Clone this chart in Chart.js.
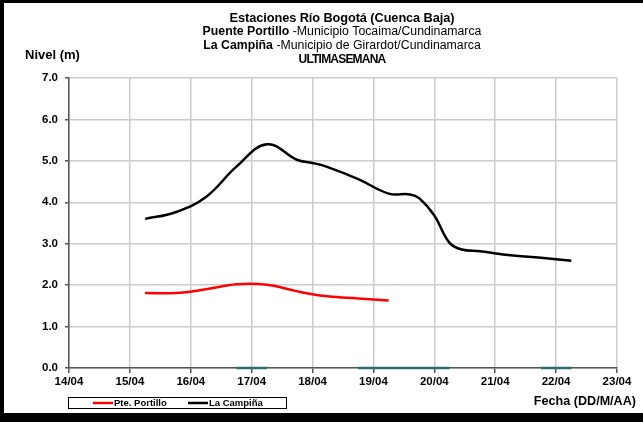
<!DOCTYPE html>
<html>
<head>
<meta charset="utf-8">
<script src="https://cdn.jsdelivr.net/npm/chart.js@4/dist/chart.umd.min.js"></script>
<style>
html,body{margin:0;padding:0;background:#fff;}
#wrap{width:643px;height:422px;position:relative;}
canvas{display:block;}
</style>
</head>
<body>
<div id="wrap"><canvas id="c" width="643" height="422"></canvas></div>
<script>
// Day offsets from 14/04 00:00
const xTickLabels = ["14/04","15/04","16/04","17/04","18/04","19/04","20/04","21/04","22/04","23/04"];
const timesCampina = [1.25,1.75,2.25,2.75,3.25,3.75,4.0,4.25,4.75,5.25,5.6,5.75,6.0,6.25,6.45,6.75,7.25,7.75,8.25];
const levelsCampina = [3.60,3.76,4.13,4.86,5.40,5.02,4.95,4.85,4.56,4.21,4.19,4.10,3.68,3.02,2.86,2.82,2.72,2.66,2.59];
const timesPortillo = [1.25,1.75,2.25,2.75,3.25,3.75,4.25,4.75,5.25];
const levelsPortillo = [1.81,1.81,1.90,2.02,2.01,1.85,1.73,1.68,1.63];
const timesZero = [2.75,3.25,3.5,4.75,5.25,5.75,6.25,7.0,7.75,8.25];
const levelsZero = [0,0,null,0,0,0,0,null,0,0];

const toPts = (xs, ys) => xs.map((x,i)=>({x:x,y:ys[i]}));

const FONT = "'Liberation Sans', Arial, sans-serif";

const decor = {
  id:'decor',
  afterDraw(chart){
    const ctx = chart.ctx;
    ctx.save();
    // frame
    ctx.fillStyle = '#000';
    ctx.fillRect(0,0,643,3);
    ctx.fillRect(0,0,4,422);
    ctx.fillRect(0,413,643,9);
    // title
    ctx.textBaseline = 'middle';
    const cx = 342;
    function mixed(parts, y, size, ls){
      ctx.letterSpacing = ls || '0px';
      let total = 0;
      parts.forEach(p=>{ ctx.font = (p.b?'bold ':'') + size + 'px ' + FONT; p.w = ctx.measureText(p.t).width; total += p.w; });
      let x = cx - total/2;
      ctx.textAlign = 'left';
      parts.forEach(p=>{ ctx.font = (p.b?'bold ':'') + size + 'px ' + FONT; ctx.fillText(p.t, x, y); x += p.w; });
      ctx.letterSpacing = '0px';
    }
    ctx.fillStyle = '#000';
    mixed([{t:'Estaciones Río Bogotá (Cuenca Baja)',b:true}], 18, 12.8, '-0.1px');
    mixed([{t:'Puente Portillo',b:true},{t:' -Municipio Tocaima/Cundinamarca',b:false}], 32, 12.3);
    mixed([{t:'La Campiña',b:true},{t:' -Municipio de Girardot/Cundinamarca',b:false}], 46, 12.3);
    mixed([{t:'ULTIMASEMANA',b:true}], 60, 12, '-0.8px');
    // axis titles
    ctx.font = 'bold 13px ' + FONT;
    ctx.textAlign = 'left';
    ctx.fillText('Nivel (m)', 25, 55);
    ctx.font = 'bold 12.6px ' + FONT;
    ctx.textAlign = 'right';
    ctx.fillText('Fecha (DD/M/AA)', 636, 402);
    // legend
    ctx.strokeStyle = '#000';
    ctx.lineWidth = 1;
    ctx.strokeRect(68.5, 397.5, 218, 11);
    const items = [{c:'#ff0000',t:'Pte. Portillo',x:93},{c:'#000000',t:'La Campiña',x:188}];
    ctx.font = 'bold 9.5px ' + FONT;
    ctx.textAlign = 'left';
    items.forEach(it=>{
      ctx.strokeStyle = it.c; ctx.lineWidth = 2.5;
      ctx.beginPath(); ctx.moveTo(it.x,403); ctx.lineTo(it.x+20,403); ctx.stroke();
      ctx.fillStyle = '#000';
      ctx.fillText(it.t, it.x+21, 403);
    });
    ctx.restore();
  }
};

new Chart(document.getElementById('c'), {
  type:'line',
  data:{
    datasets:[
      {label:'Pte. Portillo', data:toPts(timesPortillo, levelsPortillo), borderColor:'#ff0000', borderWidth:2.5, pointRadius:0, tension:0.4, fill:false},
      {label:'La Campiña', data:toPts(timesCampina, levelsCampina), borderColor:'#000000', borderWidth:2.5, pointRadius:0, tension:0.4, fill:false},
      {label:'', data:toPts(timesZero, levelsZero), borderColor:'#2a6e6e', borderWidth:2.5, pointRadius:0, tension:0, spanGaps:false, clip:false}
    ]
  },
  options:{
    responsive:false,
    animation:false,
    events:[],
    layout:{padding:{left:0,top:78,right:26,bottom:0}},
    plugins:{legend:{display:false}, title:{display:false}, tooltip:{enabled:false}},
    scales:{
      x:{
        type:'linear', min:0, max:9,
        afterFit(s){ s.height = 54; },
        afterBuildTicks(s){ s.ticks = xTickLabels.map((l,i)=>({value:i})); },
        ticks:{stepSize:1, autoSkip:false, maxRotation:0, padding:2, color:'#000', font:{family:FONT, size:11.5, weight:'bold'}, callback:(v)=>xTickLabels[v]},
        grid:{color:'#cccccc', lineWidth:1.5, tickLength:5, tickColor:'#555'},
        border:{color:'#555555', width:1.5}
      },
      y:{
        min:0, max:7,
        afterFit(s){ s.width = 69; },
        ticks:{stepSize:1, padding:7, color:'#000', font:{family:FONT, size:11.5, weight:'bold'}, callback:(v)=>v.toFixed(1)},
        grid:{color:'#cccccc', lineWidth:1.5, tickLength:4, tickColor:'#555'},
        border:{color:'#555555', width:1.5}
      }
    }
  },
  plugins:[decor]
});
</script>
</body>
</html>
